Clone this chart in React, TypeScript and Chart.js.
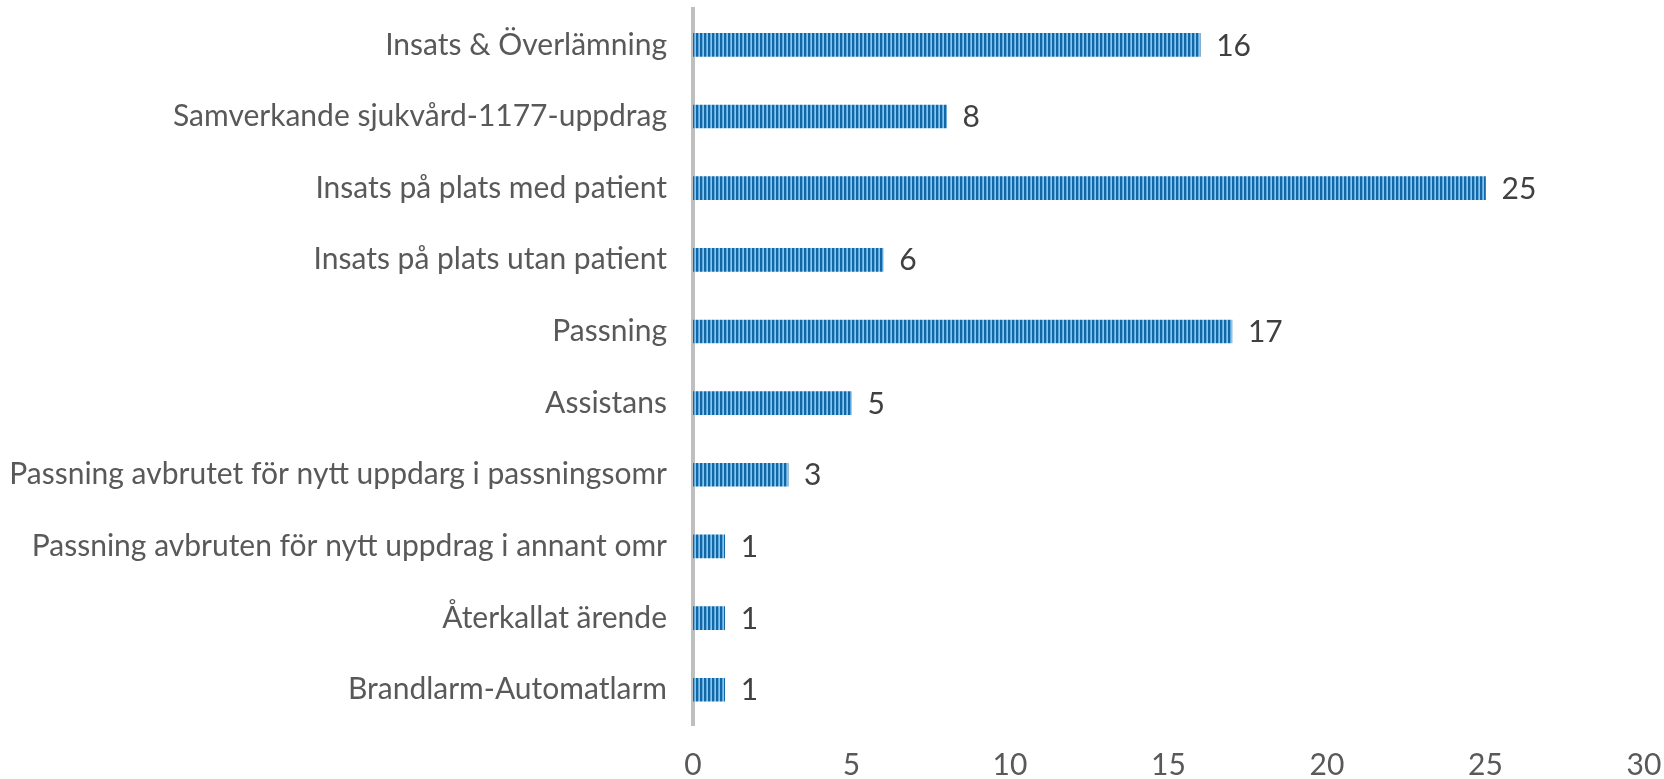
import React, { useEffect, useRef } from "react";
import { Chart, registerables } from "chart.js";

Chart.register(...registerables);

const categories = [
  "Insats & Överlämning",
  "Samverkande sjukvård-1177-uppdrag",
  "Insats på plats med patient",
  "Insats på plats utan patient",
  "Passning",
  "Assistans",
  "Passning avbrutet för nytt uppdarg i passningsomr",
  "Passning avbruten för nytt uppdrag i annant omr",
  "Återkallat ärende",
  "Brandlarm-Automatlarm",
];
const values = [16, 8, 25, 6, 17, 5, 3, 1, 1, 1];
const xMin = 0;
const xMax = 30;
const xStep = 5;

const FONT = "Lato";
const FS = 30;

function makePattern(ctx: CanvasRenderingContext2D): CanvasPattern | string {
  const c = document.createElement("canvas");
  c.width = 4;
  c.height = 1;
  const g = c.getContext("2d")!;
  g.fillStyle = "#1467a5";
  g.fillRect(0, 0, 2, 1);
  g.fillStyle = "#5fa9dc";
  g.fillRect(2, 0, 1, 1);
  g.fillStyle = "#8cc6ec";
  g.fillRect(3, 0, 1, 1);
  return ctx.createPattern(c, "repeat") || "#1f77b4";
}

const dataLabelPlugin = {
  id: "dataLabels",
  afterDatasetsDraw(chart: any) {
    const ctx = chart.ctx;
    const meta = chart.getDatasetMeta(0);
    ctx.save();
    ctx.font = `${FS}px ${FONT}`;
    ctx.fillStyle = "#404040";
    ctx.textAlign = "left";
    ctx.textBaseline = "middle";
    meta.data.forEach((bar: any, i: number) => {
      ctx.fillText(String(values[i]), bar.x + 16, bar.y + 1);
    });
    ctx.restore();
  },
};

export default function App() {
  const ref = useRef<HTMLCanvasElement>(null);
  useEffect(() => {
    const canvas = ref.current!;
    const ctx = canvas.getContext("2d")!;
    const pattern = makePattern(ctx);
    const chart = new Chart(canvas, {
      type: "bar",
      data: {
        labels: categories,
        datasets: [
          {
            data: values,
            backgroundColor: pattern as any,
            borderWidth: 0,
            barThickness: 23,
          },
        ],
      },
      options: {
        indexAxis: "y",
        animation: false,
        responsive: false,
        events: [],
        layout: { padding: { top: 9, right: 20, left: 0, bottom: 0 } },
        plugins: { legend: { display: false }, tooltip: { enabled: false } },
        scales: {
          x: {
            min: xMin,
            max: xMax,
            ticks: {
              stepSize: xStep,
              color: "#595959",
              font: { family: FONT, size: FS },
              padding: 22,
            },
            grid: { display: false, drawTicks: false },
            border: { display: false },
            afterFit: (s: any) => {
              s.height = 53.4;
              s.paddingLeft = 0;
              s.paddingRight = 0;
            },
          },
          y: {
            ticks: {
              color: "#595959",
              font: { family: FONT, size: FS },
              padding: 26,
            },
            grid: { display: false, drawTicks: false },
            border: { display: true, color: "#bfbfbf", width: 4 },
            afterFit: (s: any) => {
              s.width = 693;
              s.paddingTop = 0;
              s.paddingBottom = 0;
            },
          },
        },
      },
      plugins: [dataLabelPlugin],
    });
    return () => chart.destroy();
  }, []);
  return (
    <div style={{ position: "fixed", left: 0, top: 0, width: 1664, height: 779, background: "#fff" }}>
      <canvas ref={ref} width={1664} height={779} style={{ display: "block" }} />
    </div>
  );
}
